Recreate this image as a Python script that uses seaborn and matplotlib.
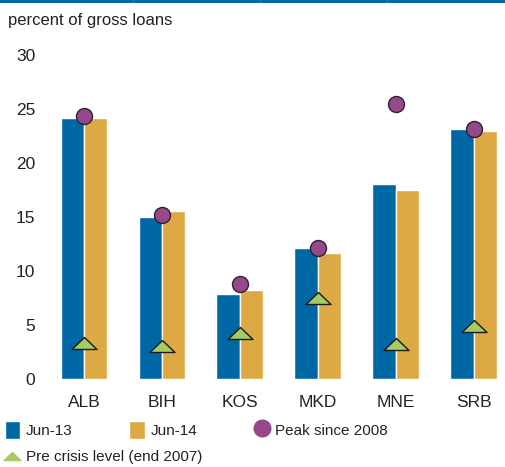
import matplotlib
matplotlib.use("Agg")
import matplotlib.pyplot as plt
from matplotlib.lines import Line2D
from matplotlib.patches import Patch
from matplotlib.path import Path
import pandas as pd
import seaborn as sns

countries = ['ALB', 'BIH', 'KOS', 'MKD', 'MNE', 'SRB']
jun13 = [24.1, 15.0, 7.8, 12.1, 18.0, 23.1]
jun14 = [24.1, 15.5, 8.2, 11.6, 17.5, 22.9]
peak_2008 = [24.3, 15.2, 8.8, 12.1, 25.4, 23.1]
pre_crisis = [3.3, 3.0, 4.2, 7.5, 3.2, 4.9]

yticks = [0, 5, 10, 15, 20, 25, 30]

blue = '#0067a5'
orange = '#dca945'
purple = '#96498a'
green = '#a4cc62'
text_col = '#222222'

sns.set_theme(style='white')
plt.rcParams['font.family'] = ['Liberation Sans', 'DejaVu Sans']

df = pd.DataFrame({
    'country': countries * 2,
    'value': jun13 + jun14,
    'period': ['Jun-13'] * len(countries) + ['Jun-14'] * len(countries),
})

fig = plt.figure(figsize=(5.05, 4.67), dpi=100)
ax = fig.add_axes([0.089, 0.189, 0.911, 0.694])

sns.barplot(data=df, x='country', y='value', hue='period',
            palette=[blue, orange], saturation=1, width=0.6,
            edgecolor='white', linewidth=1, legend=False, ax=ax)

# flat triangle marker
tri = Path([(-1, -0.48), (1, -0.48), (0, 0.48), (-1, -0.48)],
           [Path.MOVETO, Path.LINETO, Path.LINETO, Path.CLOSEPOLY])

sns.stripplot(x=countries, y=peak_2008, jitter=False, size=11.5,
              color=purple, edgecolor='#2e2230', linewidth=1,
              zorder=4, ax=ax, clip_on=False)
sns.stripplot(x=countries, y=pre_crisis, jitter=False, size=18,
              marker=tri, color=green, edgecolor='#1a1a1a', linewidth=1,
              zorder=4, ax=ax, clip_on=False)

ax.set_xlim(-0.5, 5.4)
ax.set_ylim(0, 30)
ax.set_yticks(yticks)
ax.set_xlabel('')
ax.set_ylabel('')
sns.despine(ax=ax, left=True, bottom=True)

ax.tick_params(axis='y', length=0, pad=7, labelsize=12.5, labelcolor=text_col)
ax.tick_params(axis='x', length=0, pad=12, labelsize=12.5, labelcolor=text_col)

fig.text(0.016, 0.957, 'percent of gross loans', fontsize=12,
         color=text_col, va='center', ha='left')

# top rule
for x0, x1 in [(0, 132), (134, 259), (261, 386), (388, 505)]:
    fig.add_artist(Line2D([x0 / 505, x1 / 505], [0.997, 0.997],
                          color=blue, lw=2.2, transform=fig.transFigure))

handles1 = [
    Patch(facecolor=blue, label='Jun-13'),
    Patch(facecolor=orange, label='Jun-14'),
    Line2D([], [], marker='o', linestyle='', markersize=12,
           markerfacecolor=purple, markeredgecolor=purple,
           label='Peak since 2008'),
]
leg1 = fig.legend(handles=handles1, loc='center left',
                  bbox_to_anchor=(0.0, 0.079), ncol=3, frameon=False,
                  fontsize=11, handlelength=1.0, handleheight=1.45,
                  handletextpad=0.4, columnspacing=3.7,
                  borderaxespad=0, borderpad=0.3)
for t in leg1.get_texts():
    t.set_color(text_col)

handles2 = [
    Line2D([], [], marker=tri, linestyle='', markersize=12,
           markerfacecolor=green, markeredgecolor=green,
           label='Pre crisis level (end 2007)'),
]
leg2 = fig.legend(handles=handles2, loc='center left',
                  bbox_to_anchor=(0.0, 0.021), frameon=False,
                  fontsize=11, handlelength=1.0, handletextpad=0.4,
                  borderaxespad=0, borderpad=0.3)
for t in leg2.get_texts():
    t.set_color(text_col)

fig.savefig('out.png', dpi=100)
